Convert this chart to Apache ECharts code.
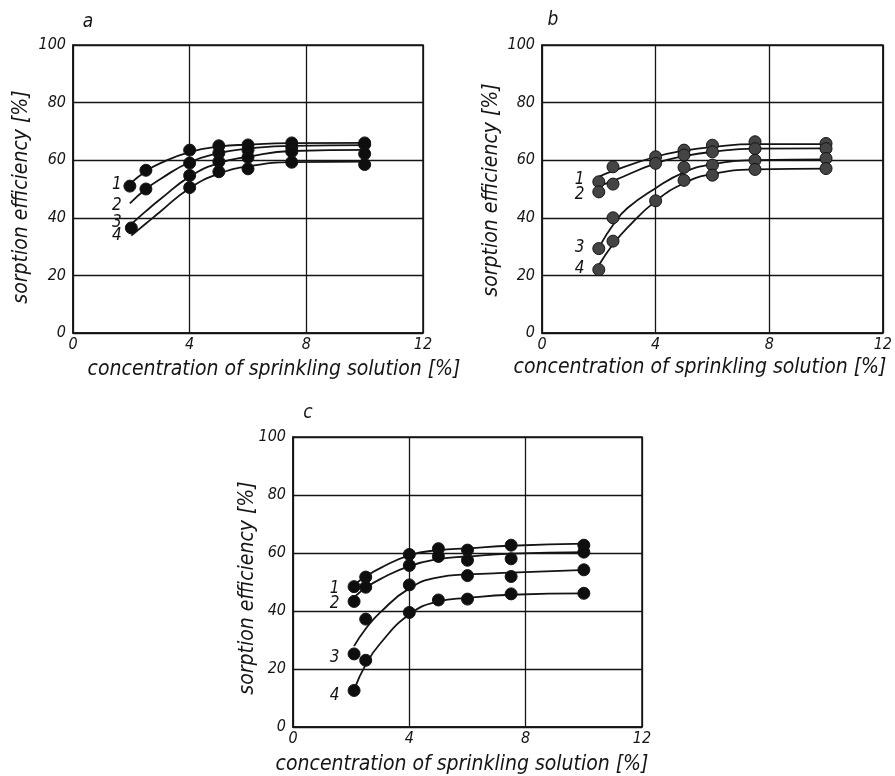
<!DOCTYPE html>
<html>
<head>
<meta charset="utf-8">
<script src="https://cdn.jsdelivr.net/npm/echarts@6/dist/echarts.min.js"></script>
<style>html,body{margin:0;padding:0;background:#fff}#c{width:895px;height:776px}</style>
</head>
<body>
<div id="c"></div>
<script>
// ---- tick labels ----
const xTicks = [0, 4, 8, 12];
const yTicks = [0, 20, 40, 60, 80, 100];
const curveNames = ['1', '2', '3', '4'];

// ---- panel a: measured points ----
const aPts1 = [[1.95,51],[2.5,56.5],[4,63.5],[5,65],[6,65.3],[7.5,66],[10,66]];
const aPts2 = [[2.5,50],[4,59],[5,62.5],[6,63.5],[7.5,64.5],[10,65.5]];
const aPts3 = [[2,36.5],[4,54.7],[5,59.5],[6,61],[7.5,63],[10,62.2]];
const aPts4 = [[4,50.5],[5,56],[6,57],[7.5,59.3],[10,58.5]];
// ---- panel a: fitted curves ----
const aCur1 = [[1.95,51.8],[2.5,56.2],[3,59],[4,62.8],[5,64.7],[6,65.4],[7.5,65.9],[10.1,66]];
const aCur2 = [[1.95,45],[2.5,50],[3,53.5],[4,59.3],[5,62.5],[6,64],[7.5,65],[10.1,65.2]];
const aCur3 = [[2,37.8],[2.5,42.3],[3,46.5],[4,54.3],[5,59],[6,61.2],[7.5,63.2],[10.1,63.6]];
const aCur4 = [[2,33.8],[2.5,38],[3,42.2],[4,50.3],[5,55.3],[6,57.8],[7.5,59.3],[10.1,59.5]];
const aLab = [[1.5,51.4],[1.5,44.1],[1.5,38.3],[1.5,34]];

// ---- panel b ----
const bPts1 = [[2,52.5],[2.5,57.7],[4,61.2],[5,63.5],[6,65.2],[7.5,66.4],[10,65.8]];
const bPts2 = [[2,49],[2.5,51.7],[4,58.9],[5,61.8],[6,62.9],[7.5,64],[10,64]];
const bPts3 = [[2,29.3],[2.5,40],[5,57.5],[6,58.3],[7.5,60],[10,60.6]];
const bPts4 = [[2,22],[2.5,31.9],[4,45.9],[5,53],[6,54.8],[7.5,56.8],[10,57.1]];
const bCur1 = [[2,54.2],[2.5,56.3],[4,61.2],[5,63.3],[6,64.6],[7.5,65.6],[10.1,65.6]];
const bCur2 = [[2,51],[2.5,52.8],[4,58.9],[5,61.4],[6,62.9],[7.5,64],[10.1,64.1]];
const bCur3 = [[2.05,30.5],[2.5,37.5],[3,43.3],[4,50.3],[5,55.8],[6,58.6],[7.5,60],[10.1,60.3]];
const bCur4 = [[2,23.5],[2.5,30.8],[3,36.5],[4,45.8],[5,52],[6,55.2],[7.5,56.8],[10.1,57.1]];
const bLab = [[1.32,53.1],[1.32,47.9],[1.32,29.5],[1.32,22.2]];

// ---- panel c ----
const cPts1 = [[2.1,48.4],[2.5,51.7],[4,59.5],[5,61.5],[6,61],[7.5,62.7],[10,62.7]];
const cPts2 = [[2.1,43.3],[2.5,48.2],[4,55.7],[5,58.8],[6,57.5],[7.5,58],[10,60.3]];
const cPts3 = [[2.1,25.2],[2.5,37.2],[4,49],[6,52.2],[7.5,51.9],[10,54.2]];
const cPts4 = [[2.1,12.6],[2.5,23],[4,39.5],[5,43.8],[6,44.1],[7.5,45.9],[10,46.1]];
const cCur1 = [[2.1,49],[2.5,51.9],[3,54.8],[4,59.2],[5,61],[6,61.6],[7.5,62.5],[10.1,63.2]];
const cCur2 = [[2.1,44.7],[2.5,48],[3,51],[4,55.5],[5,57.9],[6,58.8],[7.5,59.8],[10.1,60.3]];
const cCur3 = [[2.1,27.9],[2.5,33.9],[3,39.5],[4,47.8],[5,51.6],[6,52.6],[7.5,53.2],[10.1,54.2]];
const cCur4 = [[2.1,12.8],[2.5,21.5],[3,28.8],[4,38.8],[5,43.3],[6,44.5],[7.5,45.6],[10.1,46.1]];
const cLab = [[1.43,47.9],[1.43,42.4],[1.43,23.8],[1.43,11]];

const xTitle = 'concentration of sprinkling solution [%]';
const yTitle = 'sorption efficiency [%]';

const FONT = "'DejaVu Sans Condensed', 'Liberation Sans Narrow', 'DejaVu Sans', sans-serif";
const INK = '#141414';

const panels = [
  {pts:[aPts1,aPts2,aPts3,aPts4], cur:[aCur1,aCur2,aCur3,aCur4], lab:aLab, grid:{left:73,top:45,width:350,height:288}, dot:'#0e0e0e'},
  {pts:[bPts1,bPts2,bPts3,bPts4], cur:[bCur1,bCur2,bCur3,bCur4], lab:bLab, grid:{left:542,top:45,width:347,height:288}, dot:'#444444'},
  {pts:[cPts1,cPts2,cPts3,cPts4], cur:[cCur1,cCur2,cCur3,cCur4], lab:cLab, grid:{left:293,top:437,width:349,height:290}, dot:'#0e0e0e'}
];

const grids = [], xAxes = [], yAxes = [], series = [];
panels.forEach((p, i) => {
  grids.push(Object.assign({show:true, borderColor:INK, borderWidth:1.5, backgroundColor:'transparent'}, p.grid));
  xAxes.push({
    type:'value', gridIndex:i, min:xTicks[0], max:xTicks[xTicks.length-1], interval:xTicks[1]-xTicks[0],
    axisLine:{show:true, lineStyle:{color:INK, width:1.5}}, axisTick:{show:false},
    splitLine:{show:true, lineStyle:{color:INK, width:1.3}},
    axisLabel:{color:INK, fontSize:16, fontStyle:'italic', fontFamily:FONT, margin:4,
      formatter:v => xTicks.includes(v) ? String(v) : ''}
  });
  yAxes.push({
    type:'value', gridIndex:i, min:yTicks[0], max:yTicks[yTicks.length-1], interval:yTicks[1]-yTicks[0],
    axisLine:{show:true, lineStyle:{color:INK, width:1.5}}, axisTick:{show:false},
    splitLine:{show:true, lineStyle:{color:INK, width:1.3}},
    axisLabel:{color:INK, fontSize:16, fontStyle:'italic', fontFamily:FONT, margin:7,
      formatter:v => yTicks.includes(v) ? String(v) : ''}
  });
  p.cur.forEach((c) => {
    series.push({type:'line', xAxisIndex:i, yAxisIndex:i, data:c, smooth:0.5,
      showSymbol:false, symbol:'none', lineStyle:{color:INK, width:1.8}, silent:true, z:2});
  });
  p.pts.forEach((d) => {
    series.push({type:'scatter', xAxisIndex:i, yAxisIndex:i, data:d, symbol:'circle', symbolSize:12,
      itemStyle:{color:p.dot, borderColor:INK, borderWidth:1, opacity:1}, silent:true, z:3});
  });
  series.push({type:'scatter', xAxisIndex:i, yAxisIndex:i, symbol:'circle', symbolSize:2, silent:true, z:4,
    itemStyle:{color:'rgba(0,0,0,0)', opacity:1},
    data:p.lab.map((l, k) => ({value:l, name:curveNames[k]})),
    label:{show:true, position:'inside', formatter:'{b}', color:INK, opacity:1, fontSize:17, fontStyle:'italic', fontFamily:FONT}
  });
});

const tstyle = (txt, size) => ({text:txt, fill:INK, font:'italic ' + size + 'px ' + FONT, textAlign:'center', textVerticalAlign:'middle'});
const graphic = [
  {type:'text', x:88, y:22, style:tstyle('a', 19)},
  {type:'text', x:553, y:20, style:tstyle('b', 19)},
  {type:'text', x:308, y:413, style:tstyle('c', 19)},
  {type:'text', x:274, y:370, style:tstyle(xTitle, 21)},
  {type:'text', x:700, y:368, style:tstyle(xTitle, 21)},
  {type:'text', x:462, y:765, style:tstyle(xTitle, 21)},
  {type:'text', x:22, y:197, rotation:Math.PI/2, style:tstyle(yTitle, 21)},
  {type:'text', x:492, y:190, rotation:Math.PI/2, style:tstyle(yTitle, 21)},
  {type:'text', x:248, y:588, rotation:Math.PI/2, style:tstyle(yTitle, 21)}
];

const chart = echarts.init(document.getElementById('c'), null, {renderer:'canvas'});
chart.setOption({backgroundColor:'#fff', animation:false, grid:grids, xAxis:xAxes, yAxis:yAxes, series:series, graphic:graphic});
</script>
</body>
</html>
